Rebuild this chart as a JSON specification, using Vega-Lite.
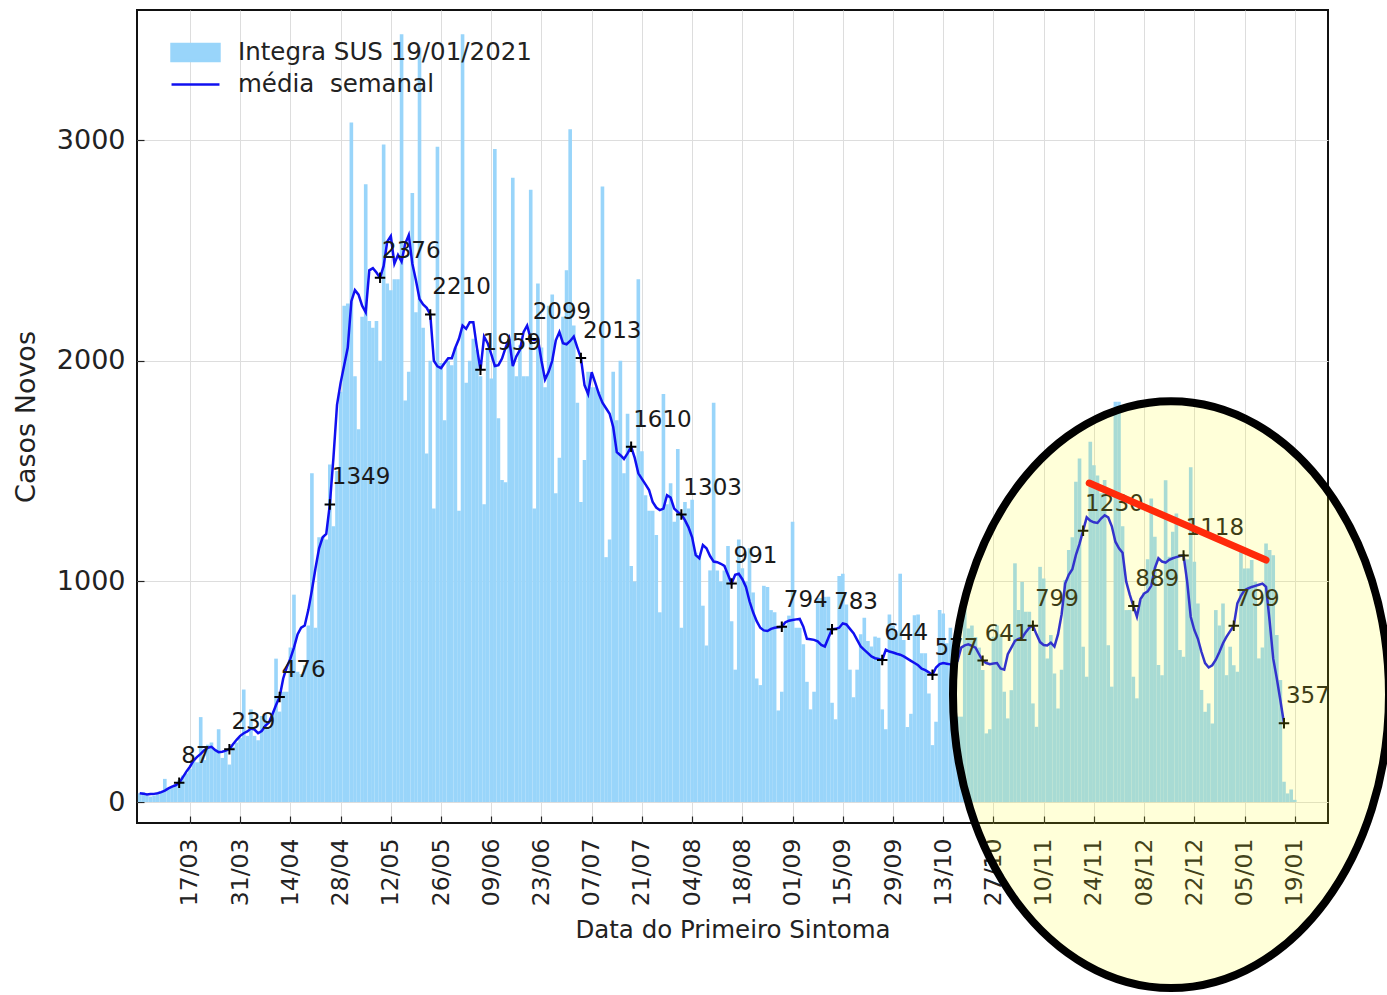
{
"$schema":"https://vega.github.io/schema/vega-lite/v6.json",
"width":1191,"height":813,"autosize":"none",
"padding":{"left":137,"top":10,"right":59,"bottom":172},
"background":"white",
"datasets":{
"days":[
{"t":"2020-03-03","c":40,"m":40},{"t":"2020-03-04","c":45,"m":38},{"t":"2020-03-05","c":30,"m":34},{"t":"2020-03-06","c":25,"m":36},{"t":"2020-03-07","c":30,"m":37},{"t":"2020-03-08","c":35,"m":40},{"t":"2020-03-09","c":50,"m":45},{"t":"2020-03-10","c":105,"m":52},{"t":"2020-03-11","c":60,"m":62},{"t":"2020-03-12","c":70,"m":70},{"t":"2020-03-13","c":80,"m":76},{"t":"2020-03-14","c":100,"m":87},{"t":"2020-03-15","c":120,"m":112},{"t":"2020-03-16","c":130,"m":138},{"t":"2020-03-17","c":150,"m":160},{"t":"2020-03-18","c":200,"m":188},{"t":"2020-03-19","c":180,"m":205},{"t":"2020-03-20","c":385,"m":218},{"t":"2020-03-21","c":190,"m":235},{"t":"2020-03-22","c":260,"m":246},{"t":"2020-03-23","c":270,"m":250},{"t":"2020-03-24","c":240,"m":236},{"t":"2020-03-25","c":330,"m":226},{"t":"2020-03-26","c":200,"m":228},{"t":"2020-03-27","c":230,"m":233},{"t":"2020-03-28","c":170,"m":239},{"t":"2020-03-29","c":250,"m":262},{"t":"2020-03-30","c":270,"m":282},{"t":"2020-03-31","c":290,"m":300},
{"t":"2020-04-01","c":510,"m":312},{"t":"2020-04-02","c":300,"m":320},{"t":"2020-04-03","c":420,"m":333},{"t":"2020-04-04","c":300,"m":328},{"t":"2020-04-05","c":280,"m":312},{"t":"2020-04-06","c":390,"m":322},{"t":"2020-04-07","c":400,"m":345},{"t":"2020-04-08","c":330,"m":360},{"t":"2020-04-09","c":400,"m":398},{"t":"2020-04-10","c":650,"m":440},{"t":"2020-04-11","c":410,"m":476},{"t":"2020-04-12","c":500,"m":560},{"t":"2020-04-13","c":500,"m":612},{"t":"2020-04-14","c":700,"m":650},{"t":"2020-04-15","c":940,"m":700},{"t":"2020-04-16","c":590,"m":760},{"t":"2020-04-17","c":580,"m":790},{"t":"2020-04-18","c":620,"m":800},{"t":"2020-04-19","c":800,"m":870},{"t":"2020-04-20","c":1490,"m":960},{"t":"2020-04-21","c":790,"m":1060},{"t":"2020-04-22","c":1200,"m":1150},{"t":"2020-04-23","c":1200,"m":1200},{"t":"2020-04-24","c":1190,"m":1215},{"t":"2020-04-25","c":1530,"m":1349},{"t":"2020-04-26","c":1250,"m":1560},{"t":"2020-04-27","c":1500,"m":1800},{"t":"2020-04-28","c":1860,"m":1900},{"t":"2020-04-29","c":2250,"m":1980},{"t":"2020-04-30","c":2260,"m":2060},
{"t":"2020-05-01","c":3080,"m":2270},{"t":"2020-05-02","c":1930,"m":2320},{"t":"2020-05-03","c":1690,"m":2300},{"t":"2020-05-04","c":2200,"m":2250},{"t":"2020-05-05","c":2800,"m":2220},{"t":"2020-05-06","c":2180,"m":2410},{"t":"2020-05-07","c":2150,"m":2420},{"t":"2020-05-08","c":2180,"m":2400},{"t":"2020-05-09","c":2000,"m":2376},{"t":"2020-05-10","c":2980,"m":2430},{"t":"2020-05-11","c":2350,"m":2540},{"t":"2020-05-12","c":2320,"m":2565},{"t":"2020-05-13","c":2370,"m":2440},{"t":"2020-05-14","c":2370,"m":2480},{"t":"2020-05-15","c":3480,"m":2450},{"t":"2020-05-16","c":1820,"m":2530},{"t":"2020-05-17","c":1950,"m":2570},{"t":"2020-05-18","c":2760,"m":2440},{"t":"2020-05-19","c":2220,"m":2365},{"t":"2020-05-20","c":3420,"m":2280},{"t":"2020-05-21","c":2150,"m":2255},{"t":"2020-05-22","c":1580,"m":2240},{"t":"2020-05-23","c":2000,"m":2210},{"t":"2020-05-24","c":1330,"m":2000},{"t":"2020-05-25","c":2970,"m":1975},{"t":"2020-05-26","c":1990,"m":1967},{"t":"2020-05-27","c":1730,"m":1990},{"t":"2020-05-28","c":2000,"m":2012},{"t":"2020-05-29","c":1980,"m":2012},{"t":"2020-05-30","c":2060,"m":2060},{"t":"2020-05-31","c":1320,"m":2100},
{"t":"2020-06-01","c":3480,"m":2160},{"t":"2020-06-02","c":1900,"m":2145},{"t":"2020-06-03","c":2000,"m":2175},{"t":"2020-06-04","c":2100,"m":2175},{"t":"2020-06-05","c":2050,"m":2060},{"t":"2020-06-06","c":1930,"m":1959},{"t":"2020-06-07","c":1350,"m":2110},{"t":"2020-06-08","c":2050,"m":2080},{"t":"2020-06-09","c":1920,"m":2030},{"t":"2020-06-10","c":2960,"m":1976},{"t":"2020-06-11","c":1740,"m":1980},{"t":"2020-06-12","c":1460,"m":2010},{"t":"2020-06-13","c":1450,"m":2060},{"t":"2020-06-14","c":2100,"m":2100},{"t":"2020-06-15","c":2830,"m":1976},{"t":"2020-06-16","c":1930,"m":2020},{"t":"2020-06-17","c":2070,"m":2050},{"t":"2020-06-18","c":1930,"m":2130},{"t":"2020-06-19","c":1930,"m":2160},{"t":"2020-06-20","c":2775,"m":2099},{"t":"2020-06-21","c":1330,"m":2095},{"t":"2020-06-22","c":2350,"m":2100},{"t":"2020-06-23","c":2060,"m":2000},{"t":"2020-06-24","c":1880,"m":1915},{"t":"2020-06-25","c":2250,"m":1950},{"t":"2020-06-26","c":2300,"m":2000},{"t":"2020-06-27","c":1400,"m":2093},{"t":"2020-06-28","c":1560,"m":2130},{"t":"2020-06-29","c":2200,"m":2080},{"t":"2020-06-30","c":2410,"m":2075},
{"t":"2020-07-01","c":3050,"m":2090},{"t":"2020-07-02","c":2160,"m":2110},{"t":"2020-07-03","c":1810,"m":2060},{"t":"2020-07-04","c":1360,"m":2013},{"t":"2020-07-05","c":1550,"m":1890},{"t":"2020-07-06","c":1950,"m":1850},{"t":"2020-07-07","c":1880,"m":1948},{"t":"2020-07-08","c":1880,"m":1900},{"t":"2020-07-09","c":1860,"m":1850},{"t":"2020-07-10","c":2790,"m":1810},{"t":"2020-07-11","c":1110,"m":1785},{"t":"2020-07-12","c":1190,"m":1760},{"t":"2020-07-13","c":1950,"m":1700},{"t":"2020-07-14","c":1730,"m":1586},{"t":"2020-07-15","c":2000,"m":1572},{"t":"2020-07-16","c":1490,"m":1555},{"t":"2020-07-17","c":1760,"m":1580},{"t":"2020-07-18","c":1070,"m":1610},{"t":"2020-07-19","c":1000,"m":1560},{"t":"2020-07-20","c":2370,"m":1490},{"t":"2020-07-21","c":1590,"m":1465},{"t":"2020-07-22","c":1390,"m":1440},{"t":"2020-07-23","c":1320,"m":1414},{"t":"2020-07-24","c":1320,"m":1360},{"t":"2020-07-25","c":1210,"m":1335},{"t":"2020-07-26","c":860,"m":1323},{"t":"2020-07-27","c":1850,"m":1330},{"t":"2020-07-28","c":1350,"m":1391},{"t":"2020-07-29","c":1445,"m":1380},{"t":"2020-07-30","c":1270,"m":1330},{"t":"2020-07-31","c":1600,"m":1315},
{"t":"2020-08-01","c":790,"m":1303},{"t":"2020-08-02","c":1360,"m":1278},{"t":"2020-08-03","c":1330,"m":1245},{"t":"2020-08-04","c":1370,"m":1200},{"t":"2020-08-05","c":1130,"m":1119},{"t":"2020-08-06","c":1120,"m":1105},{"t":"2020-08-07","c":890,"m":1165},{"t":"2020-08-08","c":710,"m":1150},{"t":"2020-08-09","c":1050,"m":1115},{"t":"2020-08-10","c":1810,"m":1090},{"t":"2020-08-11","c":1050,"m":1087},{"t":"2020-08-12","c":1000,"m":1080},{"t":"2020-08-13","c":1050,"m":1070},{"t":"2020-08-14","c":1160,"m":1030},{"t":"2020-08-15","c":820,"m":991},{"t":"2020-08-16","c":600,"m":1030},{"t":"2020-08-17","c":1190,"m":1035},{"t":"2020-08-18","c":1060,"m":1010},{"t":"2020-08-19","c":1000,"m":975},{"t":"2020-08-20","c":1150,"m":910},{"t":"2020-08-21","c":950,"m":860},{"t":"2020-08-22","c":560,"m":820},{"t":"2020-08-23","c":530,"m":790},{"t":"2020-08-24","c":980,"m":778},{"t":"2020-08-25","c":975,"m":775},{"t":"2020-08-26","c":870,"m":785},{"t":"2020-08-27","c":860,"m":790},{"t":"2020-08-28","c":415,"m":792},{"t":"2020-08-29","c":500,"m":794},{"t":"2020-08-30","c":800,"m":815},{"t":"2020-08-31","c":845,"m":822},
{"t":"2020-09-01","c":1270,"m":825},{"t":"2020-09-02","c":790,"m":828},{"t":"2020-09-03","c":790,"m":830},{"t":"2020-09-04","c":715,"m":795},{"t":"2020-09-05","c":545,"m":740},{"t":"2020-09-06","c":420,"m":738},{"t":"2020-09-07","c":500,"m":735},{"t":"2020-09-08","c":925,"m":728},{"t":"2020-09-09","c":925,"m":712},{"t":"2020-09-10","c":930,"m":705},{"t":"2020-09-11","c":930,"m":745},{"t":"2020-09-12","c":450,"m":783},{"t":"2020-09-13","c":375,"m":785},{"t":"2020-09-14","c":1025,"m":790},{"t":"2020-09-15","c":1035,"m":810},{"t":"2020-09-16","c":895,"m":805},{"t":"2020-09-17","c":600,"m":785},{"t":"2020-09-18","c":475,"m":765},{"t":"2020-09-19","c":600,"m":735},{"t":"2020-09-20","c":760,"m":705},{"t":"2020-09-21","c":835,"m":690},{"t":"2020-09-22","c":730,"m":675},{"t":"2020-09-23","c":705,"m":660},{"t":"2020-09-24","c":750,"m":652},{"t":"2020-09-25","c":745,"m":648},{"t":"2020-09-26","c":420,"m":644},{"t":"2020-09-27","c":330,"m":690},{"t":"2020-09-28","c":850,"m":682},{"t":"2020-09-29","c":800,"m":678},{"t":"2020-09-30","c":760,"m":672},
{"t":"2020-10-01","c":1035,"m":668},{"t":"2020-10-02","c":735,"m":660},{"t":"2020-10-03","c":340,"m":650},{"t":"2020-10-04","c":400,"m":640},{"t":"2020-10-05","c":847,"m":630},{"t":"2020-10-06","c":850,"m":620},{"t":"2020-10-07","c":674,"m":605},{"t":"2020-10-08","c":674,"m":598},{"t":"2020-10-09","c":492,"m":588},{"t":"2020-10-10","c":258,"m":577},{"t":"2020-10-11","c":364,"m":610},{"t":"2020-10-12","c":870,"m":625},{"t":"2020-10-13","c":855,"m":630},{"t":"2020-10-14","c":720,"m":627},{"t":"2020-10-15","c":790,"m":624},{"t":"2020-10-16","c":660,"m":620},{"t":"2020-10-17","c":387,"m":640},{"t":"2020-10-18","c":387,"m":700},{"t":"2020-10-19","c":900,"m":710},{"t":"2020-10-20","c":787,"m":715},{"t":"2020-10-21","c":800,"m":708},{"t":"2020-10-22","c":748,"m":700},{"t":"2020-10-23","c":700,"m":670},{"t":"2020-10-24","c":598,"m":641},{"t":"2020-10-25","c":311,"m":630},{"t":"2020-10-26","c":330,"m":625},{"t":"2020-10-27","c":749,"m":628},{"t":"2020-10-28","c":800,"m":630},{"t":"2020-10-29","c":760,"m":605},{"t":"2020-10-30","c":500,"m":600},{"t":"2020-10-31","c":379,"m":670},
{"t":"2020-11-01","c":507,"m":700},{"t":"2020-11-02","c":1082,"m":730},{"t":"2020-11-03","c":870,"m":740},{"t":"2020-11-04","c":998,"m":745},{"t":"2020-11-05","c":862,"m":770},{"t":"2020-11-06","c":862,"m":790},{"t":"2020-11-07","c":447,"m":799},{"t":"2020-11-08","c":341,"m":760},{"t":"2020-11-09","c":1066,"m":725},{"t":"2020-11-10","c":1013,"m":712},{"t":"2020-11-11","c":651,"m":710},{"t":"2020-11-12","c":757,"m":722},{"t":"2020-11-13","c":583,"m":705},{"t":"2020-11-14","c":424,"m":760},{"t":"2020-11-15","c":600,"m":850},{"t":"2020-11-16","c":1006,"m":990},{"t":"2020-11-17","c":1142,"m":1030},{"t":"2020-11-18","c":1200,"m":1055},{"t":"2020-11-19","c":1452,"m":1120},{"t":"2020-11-20","c":1557,"m":1170},{"t":"2020-11-21","c":704,"m":1230},{"t":"2020-11-22","c":568,"m":1290},{"t":"2020-11-23","c":1633,"m":1275},{"t":"2020-11-24","c":1527,"m":1268},{"t":"2020-11-25","c":1480,"m":1265},{"t":"2020-11-26","c":1400,"m":1285},{"t":"2020-11-27","c":1460,"m":1300},{"t":"2020-11-28","c":711,"m":1290},{"t":"2020-11-29","c":523,"m":1250},{"t":"2020-11-30","c":1814,"m":1180},
{"t":"2020-12-01","c":1814,"m":1150},{"t":"2020-12-02","c":1250,"m":1130},{"t":"2020-12-03","c":870,"m":1000},{"t":"2020-12-04","c":870,"m":940},{"t":"2020-12-05","c":568,"m":889},{"t":"2020-12-06","c":470,"m":840},{"t":"2020-12-07","c":915,"m":920},{"t":"2020-12-08","c":950,"m":945},{"t":"2020-12-09","c":1100,"m":955},{"t":"2020-12-10","c":1376,"m":980},{"t":"2020-12-11","c":1202,"m":1060},{"t":"2020-12-12","c":621,"m":1105},{"t":"2020-12-13","c":575,"m":1090},{"t":"2020-12-14","c":1459,"m":1085},{"t":"2020-12-15","c":1112,"m":1098},{"t":"2020-12-16","c":1225,"m":1105},{"t":"2020-12-17","c":1308,"m":1110},{"t":"2020-12-18","c":689,"m":1115},{"t":"2020-12-19","c":659,"m":1118},{"t":"2020-12-20","c":1100,"m":1000},{"t":"2020-12-21","c":1517,"m":840},{"t":"2020-12-22","c":1089,"m":780},{"t":"2020-12-23","c":900,"m":740},{"t":"2020-12-24","c":508,"m":680},{"t":"2020-12-25","c":409,"m":630},{"t":"2020-12-26","c":447,"m":610},{"t":"2020-12-27","c":356,"m":620},{"t":"2020-12-28","c":870,"m":645},{"t":"2020-12-29","c":800,"m":680},{"t":"2020-12-30","c":900,"m":720},{"t":"2020-12-31","c":575,"m":750},
{"t":"2021-01-01","c":704,"m":775},{"t":"2021-01-02","c":620,"m":799},{"t":"2021-01-03","c":591,"m":900},{"t":"2021-01-04","c":1134,"m":935},{"t":"2021-01-05","c":1059,"m":960},{"t":"2021-01-06","c":1059,"m":968},{"t":"2021-01-07","c":1097,"m":975},{"t":"2021-01-08","c":1000,"m":980},{"t":"2021-01-09","c":651,"m":985},{"t":"2021-01-10","c":700,"m":990},{"t":"2021-01-11","c":1172,"m":975},{"t":"2021-01-12","c":1142,"m":820},{"t":"2021-01-13","c":1119,"m":650},{"t":"2021-01-14","c":757,"m":560},{"t":"2021-01-15","c":553,"m":460},{"t":"2021-01-16","c":92,"m":357},{"t":"2021-01-17","c":39},{"t":"2021-01-18","c":57},{"t":"2021-01-19","c":10}
],
"notes":[
{"t":"2020-03-14","v":87},{"t":"2020-03-28","v":239},{"t":"2020-04-11","v":476},{"t":"2020-04-25","v":1349},{"t":"2020-05-09","v":2376},{"t":"2020-05-23","v":2210},{"t":"2020-06-06","v":1959},{"t":"2020-06-20","v":2099},{"t":"2020-07-04","v":2013},{"t":"2020-07-18","v":1610},{"t":"2020-08-01","v":1303},{"t":"2020-08-15","v":991},{"t":"2020-08-29","v":794},{"t":"2020-09-12","v":783},{"t":"2020-09-26","v":644},{"t":"2020-10-10","v":577},{"t":"2020-10-24","v":641},{"t":"2020-11-07","v":799},{"t":"2020-11-21","v":1230},{"t":"2020-12-05","v":889},{"t":"2020-12-19","v":1118},{"t":"2021-01-02","v":799},{"t":"2021-01-16","v":357}
],
"oval":[{"t":"2020-12-15T12:00:00Z","v":487}],
"trend":[{"t":"2020-11-22T17:00:00Z","v":1446},{"t":"2021-01-11T00:00:00Z","v":1097}]
},
"layer":[
{"data":{"name":"days"},
 "mark":{"type":"bar","width":3.62},
 "encoding":{
  "x":{"field":"t","type":"temporal",
   "scale":{"type":"utc","nice":false,"padding":0,"domain":[{"year":2020,"month":3,"date":2,"hours":5,"minutes":45,"utc":true},{"year":2021,"month":1,"date":28,"hours":6,"minutes":30,"utc":true}]},
   "axis":{"title":"Data do Primeiro Sintoma","labelExpr":"utcFormat(datum.value,'%d/%m')","labelAngle":270,"labelFontSize":23.5,"titleFontSize":24.5,
    "values":[{"year":2020,"month":3,"date":17,"utc":true},{"year":2020,"month":3,"date":31,"utc":true},{"year":2020,"month":4,"date":14,"utc":true},{"year":2020,"month":4,"date":28,"utc":true},{"year":2020,"month":5,"date":12,"utc":true},{"year":2020,"month":5,"date":26,"utc":true},{"year":2020,"month":6,"date":9,"utc":true},{"year":2020,"month":6,"date":23,"utc":true},{"year":2020,"month":7,"date":7,"utc":true},{"year":2020,"month":7,"date":21,"utc":true},{"year":2020,"month":8,"date":4,"utc":true},{"year":2020,"month":8,"date":18,"utc":true},{"year":2020,"month":9,"date":1,"utc":true},{"year":2020,"month":9,"date":15,"utc":true},{"year":2020,"month":9,"date":29,"utc":true},{"year":2020,"month":10,"date":13,"utc":true},{"year":2020,"month":10,"date":27,"utc":true},{"year":2020,"month":11,"date":10,"utc":true},{"year":2020,"month":11,"date":24,"utc":true},{"year":2020,"month":12,"date":8,"utc":true},{"year":2020,"month":12,"date":22,"utc":true},{"year":2021,"month":1,"date":5,"utc":true},{"year":2021,"month":1,"date":19,"utc":true}],
    "labelPadding":22,"titlePadding":13}},
  "y":{"field":"c","type":"quantitative",
   "scale":{"domain":[-95,3590],"nice":false,"zero":false},
   "axis":{"title":"Casos Novos","values":[0,1000,2000,3000],"format":"d","labelFontSize":27,"titleFontSize":27,"labelPadding":19,"titlePadding":16}},
  "color":{"datum":"Integra SUS 19/01/2021","type":"nominal",
   "scale":{"domain":["Integra SUS 19/01/2021","média\u00a0 semanal"],"range":["#99d5fa","#1010f0"]},
   "legend":{"title":null,"orient":"none","legendX":40,"legendY":24,"padding":0,"rowPadding":0,"labelLimit":0,
    "symbolSize":1156,"labelFontSize":24.5,"labelColor":"#222","labelOffset":24,"labelFont":"DejaVu Sans",
    "encode":{"symbols":{"update":{
      "shape":{"signal":"indexof(datum.value,'Integra')>=0 ? 'M-1.41,-0.5H1.41V0.5H-1.41Z' : 'M-1.41,0H1.41'"},
      "fill":{"signal":"indexof(datum.value,'Integra')>=0 ? '#99d5fa' : 'transparent'"},
      "stroke":{"signal":"indexof(datum.value,'Integra')>=0 ? 'transparent' : '#1010f0'"},
      "strokeWidth":{"value":2.5},"opacity":{"value":1}}}}}}
 }},
{"data":{"name":"days"},
 "mark":{"type":"line","strokeWidth":2.5,"interpolate":"linear"},
 "encoding":{"x":{"field":"t","type":"temporal"},"y":{"field":"m","type":"quantitative"},
  "color":{"datum":"média\u00a0 semanal","type":"nominal"}}},
{"data":{"name":"notes"},
 "mark":{"type":"point","shape":"M-1,0H1M0,-1V1","size":110,"filled":false,"stroke":"black","strokeWidth":2,"opacity":1},
 "encoding":{"x":{"field":"t","type":"temporal"},"y":{"field":"v","type":"quantitative"}}},
{"data":{"name":"notes"},
 "mark":{"type":"text","align":"left","baseline":"alphabetic","dx":2,"dy":-20,"fontSize":23,"font":"DejaVu Sans","color":"#1a1a1a"},
 "encoding":{"x":{"field":"t","type":"temporal"},"y":{"field":"v","type":"quantitative"},"text":{"field":"v","type":"nominal"}}},
{"data":{"name":"oval"},
 "mark":{"type":"point","shape":"M-1,0A1,1.346 0 1,0 1,0A1,1.346 0 1,0 -1,0Z","size":190096,"filled":true,"fill":"#ffff00","fillOpacity":0.15,"stroke":"black","strokeWidth":8,"strokeOpacity":1,"opacity":1},
 "encoding":{"x":{"field":"t","type":"temporal"},"y":{"field":"v","type":"quantitative"}}},
{"data":{"name":"trend"},
 "mark":{"type":"line","color":"#ff2a0a","strokeWidth":7,"strokeCap":"round"},
 "encoding":{"x":{"field":"t","type":"temporal"},"y":{"field":"v","type":"quantitative"}}}
],
"config":{
 "font":"DejaVu Sans",
 "view":{"stroke":"#111","strokeWidth":2},
 "axis":{"labelFont":"DejaVu Sans","labelFontSize":24,"labelColor":"#222","titleFont":"DejaVu Sans","titleFontSize":24,"titleFontWeight":"normal","titleColor":"#222",
  "grid":true,"gridColor":"#dddddd","gridWidth":1,"domain":false,"ticks":true,"tickSize":-7,"tickColor":"#222","tickWidth":1.2}
}
}
